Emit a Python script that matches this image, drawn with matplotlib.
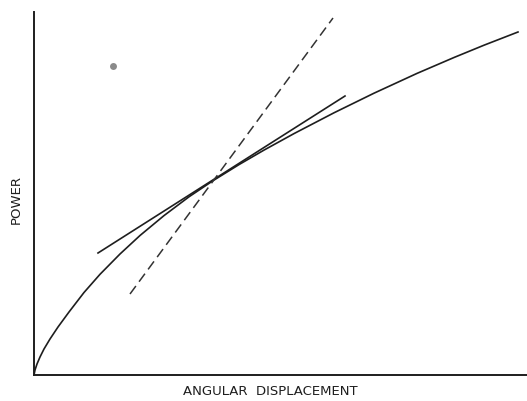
import matplotlib
matplotlib.use("Agg")
import matplotlib.pyplot as plt

# power vs angular displacement curve (axis units)
curve_x = [0, 1, 3, 6, 10, 16, 24, 35, 50, 66, 86, 106, 130, 155, 179,
           205, 230, 260, 300, 340, 383, 420, 450, 484]
curve_y = [0, 5, 11, 18, 26, 36, 48, 63, 82.5, 100.7, 121, 139.5, 159.4, 178.2, 194.3,
           210.4, 224.9, 241.4, 262.2, 281.8, 301.6, 317.5, 329.8, 343]

# tangent at the operating point (solid) and steeper line (dashed)
tangent_x = [64, 311]
tangent_y = [122, 279]
dashed_x = [96, 299]
dashed_y = [81, 357]

# ink spot on the scan
spot_x = [79]
spot_y = [309]

fig = plt.figure(figsize=(5.27, 4.02), dpi=100)
ax = fig.add_axes([34 / 527, 26 / 402, 493 / 527, 363 / 402])

ink = "#1e1e1e"
ax.plot(curve_x, curve_y, color=ink, lw=1.2, solid_joinstyle="round")
ax.plot(tangent_x, tangent_y, color=ink, lw=1.2)
ax.plot(dashed_x, dashed_y, color="#333333", lw=1.1, ls=(0, (6.5, 3.5)))
ax.plot(spot_x, spot_y, "o", color="#8a8a8a", ms=5, mew=0)

ax.set_xlim(0, 493)
ax.set_ylim(0, 363)
ax.set_xticks([])
ax.set_yticks([])
for s in ["top", "right"]:
    ax.spines[s].set_visible(False)
for s in ["left", "bottom"]:
    ax.spines[s].set_linewidth(1.4)
    ax.spines[s].set_color(ink)

ax.set_xlabel("ANGULAR  DISPLACEMENT", fontsize=9.5, color=ink, va="center")
ax.xaxis.set_label_coords(0.479, -0.044)
ax.set_ylabel("POWER", fontsize=9.5, color=ink, va="center")
ax.yaxis.set_label_coords(-0.036, 0.485)

fig.savefig("out.png", dpi=100)
